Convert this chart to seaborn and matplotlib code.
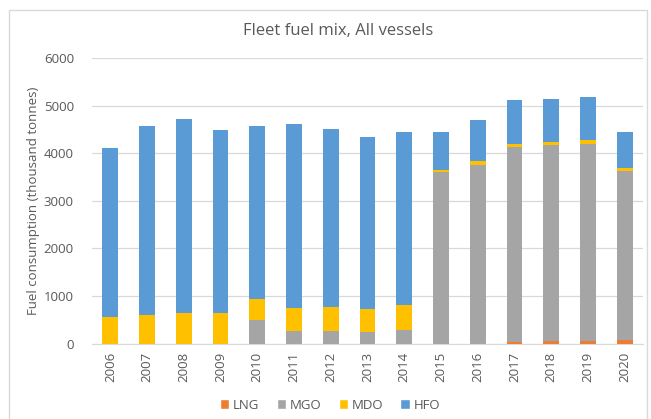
import numpy as np
import pandas as pd
import seaborn as sns
import matplotlib
matplotlib.use("Agg")
import matplotlib.pyplot as plt
from matplotlib.patches import Patch, Rectangle

years = ["2006", "2007", "2008", "2009", "2010", "2011", "2012", "2013",
         "2014", "2015", "2016", "2017", "2018", "2019", "2020"]
lng = [0, 0, 0, 0, 0, 0, 0, 0, 0, 0, 0, 42, 50, 63, 84]
mgo = [0, 0, 0, 0, 505, 265, 265, 238, 280, 3600, 3760, 4084, 4118, 4133, 3537]
mdo = [550, 603, 644, 650, 434, 484, 506, 490, 541, 55, 78, 70, 70, 71, 70]
hfo = [3560, 3967, 4066, 3830, 3641, 3861, 3739, 3622, 3619, 795, 862, 924, 902, 923, 759]

fuels = ["LNG", "MGO", "MDO", "HFO"]
colors = {"LNG": "#ED7D31", "MGO": "#A5A5A5", "MDO": "#FFC000", "HFO": "#5B9BD5"}

df = pd.DataFrame({"year": years, "LNG": lng, "MGO": mgo, "MDO": mdo, "HFO": hfo})
cum = df[fuels].cumsum(axis=1)
cum["year"] = df["year"]

sns.set_style("white")
plt.rcParams["font.family"] = ["Open Sans", "DejaVu Sans"]

fig = plt.figure(figsize=(6.51, 4.19), dpi=100)
ax = fig.add_axes([0.1413, 0.180, 0.8464, 0.6816])

# stacked bars: draw the running totals from the top layer down
for f in reversed(fuels):
    sns.barplot(data=cum, x="year", y=f, color=colors[f], width=0.43,
                order=years, ax=ax, saturation=1, linewidth=0, zorder=3)

ax.set_ylim(0, 6000)
ax.set_yticks(range(0, 6001, 1000))
ax.yaxis.grid(True, color="#D9D9D9", linewidth=0.9, zorder=0)
ax.set_axisbelow(True)
for s in ["top", "right", "left"]:
    ax.spines[s].set_visible(False)
ax.spines["bottom"].set_color("#D9D9D9")
ax.tick_params(axis="both", length=0, colors="#595959", labelsize=9.5)
ax.tick_params(axis="y", pad=13)
ax.tick_params(axis="x", pad=6)
plt.setp(ax.get_xticklabels(), rotation=90)
ax.set_xlabel("")
ax.set_ylabel("Fuel consumption (thousand tonnes)", color="#595959", fontsize=9.5, labelpad=3)

fig.text(0.519, 0.925, "Fleet fuel mix, All vessels", ha="center", va="center",
         fontsize=12, color="#595959")

handles = [Patch(facecolor=colors[f], label=f) for f in fuels]
fig.legend(handles=handles, loc="center", bbox_to_anchor=(0.507, 0.033), ncol=4,
           frameon=False, fontsize=9.5, handlelength=0.7, handleheight=0.7,
           handletextpad=0.3, columnspacing=1.3, labelcolor="#595959")

fig.patches.append(Rectangle((0.0138, -0.01), 0.98, 0.986, transform=fig.transFigure,
                             fill=False, edgecolor="#D9D9D9", linewidth=1))

fig.savefig("out.png", dpi=100)
